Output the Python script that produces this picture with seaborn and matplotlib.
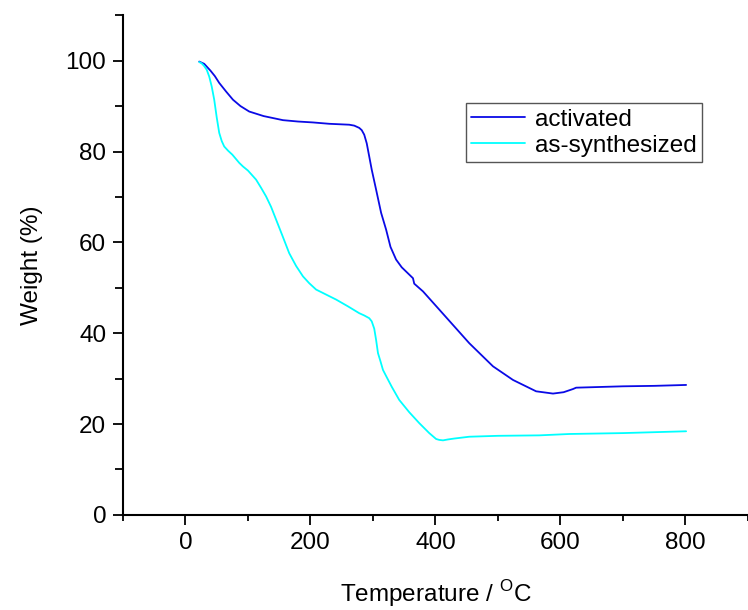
import numpy as np
import pandas as pd
import seaborn as sns
import matplotlib.pyplot as plt

# TGA curves
temp_act = [22, 30, 40, 47, 54, 65, 76, 88, 102, 125, 156, 180, 204, 230, 262, 270,
            278, 282, 286, 290, 294, 298, 305, 313, 321, 328, 337, 346, 358, 364,
            366, 380, 406, 430, 454, 492, 524, 561, 588, 605, 620, 625, 650, 700,
            750, 801]
weight_act = [99.8, 99.3, 97.8, 96.6, 95.1, 93.2, 91.4, 90.0, 88.8, 87.8, 86.9, 86.6,
              86.4, 86.1, 85.9, 85.7, 85.2, 84.7, 83.7, 81.8, 78.9, 76.0, 71.6, 66.5,
              62.8, 59.0, 56.2, 54.5, 52.9, 52.1, 50.9, 49.2, 45.2, 41.5, 37.8, 32.7,
              29.7, 27.2, 26.7, 27.0, 27.7, 28.0, 28.1, 28.3, 28.4, 28.6]

temp_syn = [22, 26, 30, 34, 38, 42, 46, 50, 54, 58, 62, 68, 75, 86, 92, 100, 113, 121,
            129, 137, 145, 155, 166, 177, 188, 198, 209, 225, 241, 260, 278, 286, 294,
            298, 302, 305, 308, 312, 316, 322, 330, 342, 358, 374, 390, 401, 406, 412,
            420, 430, 454, 500, 566, 614, 700, 801]
weight_syn = [99.7, 99.4, 98.8, 98.0, 96.5, 94.3, 91.4, 87.5, 84.1, 82.3, 81.1, 80.2,
              79.3, 77.5, 76.7, 75.8, 73.8, 72.0, 70.1, 67.8, 65.0, 61.5, 57.6, 54.8,
              52.5, 51.0, 49.6, 48.5, 47.4, 45.9, 44.4, 43.9, 43.3, 42.6, 41.0, 38.5,
              35.6, 33.8, 31.9, 30.3, 28.2, 25.3, 22.6, 20.2, 18.0, 16.7, 16.5, 16.4,
              16.6, 16.8, 17.2, 17.4, 17.5, 17.8, 18.0, 18.4]

labels = ['activated', 'as-synthesized']
colors = ['#0a0ae6', '#00ffff']

df = pd.concat([
    pd.DataFrame({'T': temp_act, 'W': weight_act, 'sample': labels[0]}),
    pd.DataFrame({'T': temp_syn, 'W': weight_syn, 'sample': labels[1]}),
])

sns.set_style('ticks')
plt.rcParams['font.family'] = ['Liberation Sans', 'DejaVu Sans']
plt.rcParams['mathtext.fontset'] = 'custom'
plt.rcParams['mathtext.rm'] = 'Liberation Sans'
plt.rcParams['text.color'] = 'black'
plt.rcParams['axes.labelcolor'] = 'black'
plt.rcParams['xtick.color'] = 'black'
plt.rcParams['ytick.color'] = 'black'

fig = plt.figure(figsize=(7.48, 6.10), dpi=100)
ax = fig.add_axes([0.1644, 0.156, 0.8356, 0.819])

sns.lineplot(data=df, x='T', y='W', hue='sample', palette=colors, sort=False,
             estimator=None, linewidth=1.3, ax=ax)

ax.set_xlim(-100, 900)
ax.set_ylim(0, 110)
ax.set_xticks([0, 200, 400, 600, 800])
ax.set_xticks([-100, 100, 300, 500, 700, 900], minor=True)
ax.set_yticks([0, 20, 40, 60, 80, 100])
ax.set_yticks([10, 30, 50, 70, 90, 110], minor=True)
ax.tick_params(which='major', length=7, width=1.3, labelsize=17.5, pad=5)
ax.tick_params(axis='x', which='minor', length=4, width=1.3)
ax.tick_params(axis='y', which='minor', length=6, width=1.3)
for s in ['left', 'bottom']:
    ax.spines[s].set_linewidth(1.5)
    ax.spines[s].set_color('black')
sns.despine(ax=ax)

ax.set_xlabel('Temperature / $^\\mathregular{O}$C', fontsize=17.5, labelpad=18)
ax.set_ylabel('Weight (%)', fontsize=17.5, labelpad=16)

leg = ax.legend(loc='upper left', bbox_to_anchor=(0.549, 0.824), fontsize=17.5,
                frameon=True, fancybox=False, edgecolor='#555555', framealpha=1,
                handlelength=2.2, handletextpad=0.4, borderpad=0.22, labelspacing=0.18,
                borderaxespad=0)
leg.get_frame().set_linewidth(1.0)

fig.savefig('out.png', dpi=100)
